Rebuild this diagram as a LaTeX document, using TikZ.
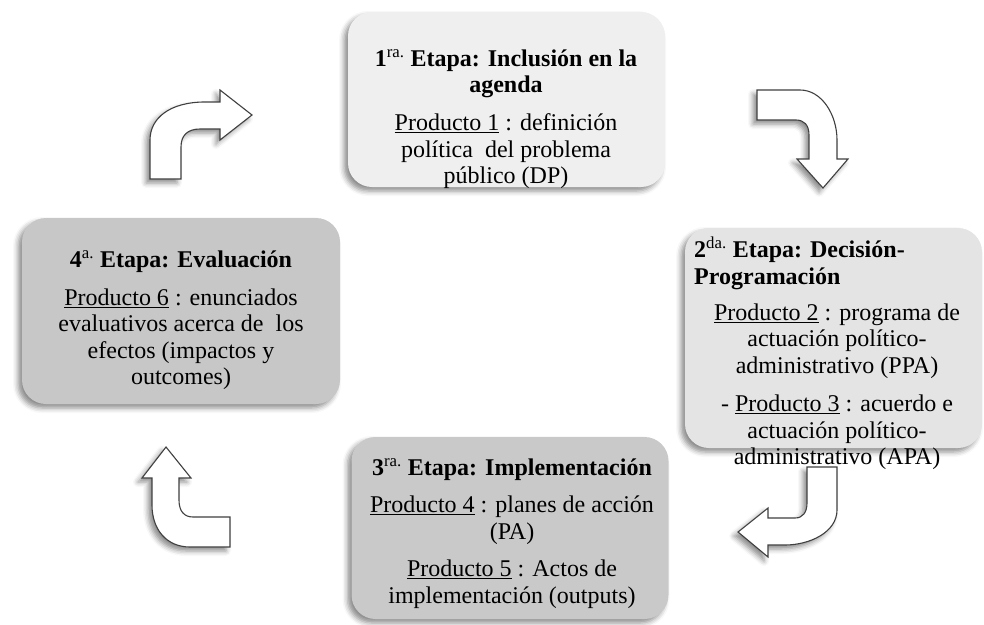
\documentclass[tikz,border=0pt]{standalone}
\usepackage{fontspec}
\setmainfont{Liberation Serif}
\IfFileExists{tikzlibraryshadows.blur.code.tex}{%
  \usetikzlibrary{shadows.blur}%
  \tikzset{shad/.style={blur shadow={shadow xshift=-4pt,shadow yshift=-4pt,shadow blur radius=5pt,shadow opacity=45}}}%
}{%
  \usetikzlibrary{shadows}%
  \tikzset{shad/.style={drop shadow={shadow xshift=-3pt,shadow yshift=-3pt,opacity=0.3,fill=gray}}}%
}
\definecolor{boxA}{HTML}{EFEFEF}
\definecolor{boxB}{HTML}{E4E4E4}
\definecolor{boxC}{HTML}{C9C9C9}
\definecolor{boxD}{HTML}{C7C7C7}
\tikzset{
  stagebox/.style={rectangle, rounded corners=24pt, inner sep=0pt, shad},
  txt/.style={font=\fontsize{24}{26.5}\selectfont, align=center, inner sep=0pt},
  blockarrow/.style={fill=white, draw=black!75, line width=1.1pt, line join=miter, shad}
}
\begin{document}
\begin{tikzpicture}[x=1pt,y=-1pt]
\useasboundingbox (0,0) rectangle (984,624);
% stage boxes
\node[stagebox, fill=boxA, minimum width=317pt, minimum height=175pt] (s1) at (506.5,99.5) {};
\node[stagebox, fill=boxB, minimum width=297pt, minimum height=220pt] (s2) at (833.5,338) {};
\node[stagebox, fill=boxC, minimum width=317pt, minimum height=182pt] (s3) at (510,528) {};
\node[stagebox, fill=boxD, minimum width=318pt, minimum height=186pt] (s4) at (181,311) {};
% block arrows
\path[blockarrow] (150,179) -- (181,179) -- (181,147) .. controls (181,135) and (188,129) .. (200,129) -- (220,129) -- (220,140) -- (252,115) -- (220,90) -- (220,102) -- (205,102) .. controls (170,102) and (150,118) .. (150,140) -- cycle;
\path[blockarrow] (757,90) -- (800,90) .. controls (822,90) and (837,115) .. (837,140) -- (837,159) -- (848,159) -- (823,188) -- (797,159) -- (809,159) -- (809,135) .. controls (809,125) and (804,120) .. (796,120) -- (757,120) -- cycle;
\path[blockarrow] (807,467) -- (837,467) -- (837,510) .. controls (837,532) and (810,545) .. (785,545) -- (768,545) -- (768,557) -- (738,532) -- (768,508) -- (768,518) -- (795,518) .. controls (803,518) and (807,512) .. (807,503) -- cycle;
\path[blockarrow] (166,447) -- (191,478) -- (179,478) -- (179,500) .. controls (179,511) and (184,517) .. (193,517) -- (230,517) -- (230,547) -- (190,547) .. controls (167,547) and (152,530) .. (152,505) -- (152,478) -- (142,478) -- cycle;
% texts
\node[txt, anchor=north] (t1) at (506,49) {\textbf{1\textsuperscript{\mdseries ra.} Etapa: Inclusión en la}\\\textbf{agenda}\\[11.5pt]\underline{Producto 1} : definición\\política\ \ del problema\\público (DP)};
\node[txt, anchor=north west, align=left] (t2a) at (694,237) {\textbf{2\textsuperscript{\mdseries da.} Etapa: Decisión-}\\\textbf{Programación}};
\node[txt, anchor=north] (t2b) at (837,303.5) {\underline{Producto 2} : programa de\\actuación político-\\administrativo (PPA)\\[12pt]- \underline{Producto 3} : acuerdo e\\actuación político-\\administrativo (APA)};
\node[txt, anchor=north] (t3) at (512,458) {\textbf{3\textsuperscript{\mdseries ra.} Etapa: Implementación}\\[11pt]\underline{Producto 4} : planes de acción\\(PA)\\[11pt]\underline{Producto 5} : Actos de\\implementación (outputs)};
\node[txt, anchor=north] (t4) at (181,250) {\textbf{4\textsuperscript{\mdseries a.} Etapa: Evaluación}\\[11.5pt]\underline{Producto 6} : enunciados\\evaluativos acerca de\ \ los\\efectos (impactos y\\outcomes)};
\end{tikzpicture}
\end{document}
